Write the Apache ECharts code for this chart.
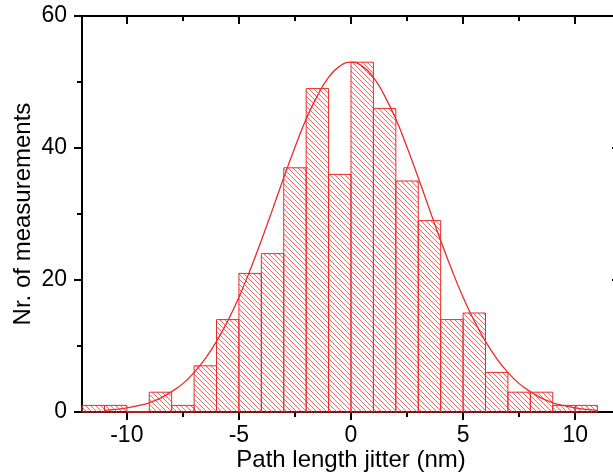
<!DOCTYPE html>
<html>
<head>
<meta charset="utf-8">
<title>Path length jitter</title>
<script src="https://cdn.jsdelivr.net/npm/echarts@6/dist/echarts.min.js"></script>
<style>
    html, body { margin: 0; padding: 0; background: #fff; }
    #main { width: 613px; height: 475px; }
</style>
</head>
<body>
<div id="main"></div>
<script>
// histogram bins (left edge, width 1 nm) and counts
var binStart = [-12, -11, -10, -9, -8, -7, -6, -5, -4, -3, -2, -1, 0, 1, 2, 3, 4, 5, 6, 7, 8, 9, 10];
var binCount = [1, 1, 0, 3, 1, 7, 14, 21, 24, 37, 49, 36, 53, 46, 35, 29, 14, 15, 6, 3, 3, 1, 1];
var binWidth = 1;

// gaussian fit curve
var fitX = [-11, -10.5, -10, -9.5, -9, -8.5, -8, -7.5, -7, -6.5, -6, -5.5, -5, -4.5, -4, -3.5, -3, -2.5, -2, -1.5, -1, -0.5,
    0, 0.5, 1, 1.5, 2, 2.5, 3, 3.5, 4, 4.5, 5, 5.5, 6, 6.5, 7, 7.5, 8, 8.5, 9, 9.5, 10, 10.5, 11];
var fitY = [0.24, 0.39, 0.61, 0.95, 1.4, 2.1, 3.1, 4.3, 6.0, 8.1, 10.7, 13.8, 17.4, 21.5, 26.0, 30.7, 35.5, 40.1, 44.4, 47.9, 50.7, 52.4,
    53.0, 52.4, 50.7, 47.9, 44.4, 40.1, 35.5, 30.7, 26.0, 21.5, 17.4, 13.8, 10.7, 8.1, 6.0, 4.3, 3.1, 2.1, 1.4, 0.95, 0.61, 0.39, 0.24];

// axis ranges
var X_MIN = -12, X_MAX = 12, Y_MIN = 0, Y_MAX = 60;
// x tick rows: first tick, step (major ticks from -10, minor ticks from -7.5)
var X_MAJOR_START = -10, X_MINOR_START = -7.5, X_TICK_STEP = 5;

var GRID = {left: 82, top: 16, width: 538, height: 396};

function hatchPattern() {
    var c = document.createElement('canvas');
    var s = 5;
    c.width = s;
    c.height = s;
    var ctx = c.getContext('2d');
    ctx.strokeStyle = 'rgba(236,60,60,0.85)';
    ctx.lineWidth = 0.9;
    ctx.beginPath();
    ctx.moveTo(-1, -1); ctx.lineTo(s + 1, s + 1);
    ctx.moveTo(-1, s - 1); ctx.lineTo(1, s + 1);
    ctx.moveTo(s - 1, -1); ctx.lineTo(s + 1, 1);
    ctx.stroke();
    return c;
}

/**
 * a grid with the same pixel scale as the main one, shifted so that
 * its min sits on a tick (ECharts counts ticks from min)
 */
function tickGrid(start) {
    var unit = GRID.width / (X_MAX - X_MIN);
    // end well past the right edge so the last tick is off the canvas
    var end = start + Math.ceil((X_MAX - start) / X_TICK_STEP) * X_TICK_STEP + X_TICK_STEP;
    return {
        grid: {
            left: GRID.left + (start - X_MIN) * unit,
            top: GRID.top,
            width: (end - start) * unit,
            height: GRID.height,
            outerBoundsMode: 'none',
            containLabel: false
        },
        min: start,
        max: end
    };
}

function tickAxis(gridIndex, tg, position, len) {
    return {
        type: 'value',
        gridIndex: gridIndex,
        min: tg.min,
        max: tg.max,
        interval: X_TICK_STEP,
        position: position,
        splitLine: {show: false},
        axisLine: {show: false, onZero: false},
        axisTick: {show: true, inside: position === 'top', length: len, lineStyle: {color: '#000', width: 2}},
        axisLabel: {show: false}
    };
}

function RenderHistogram() {
    var dom = document.getElementById('main');
    var chart = echarts.init(dom, null, {renderer: 'canvas'});
    var option;

    var hatch = {type: 'pattern', image: hatchPattern(), repeat: 'repeat'};
    var red = '#ec2a2a';
    var font = 'Liberation Sans, Arial, sans-serif';

    var bars = [];
    for (var i = 0; i < binStart.length; i++) {
        bars.push([binStart[i], binStart[i] + binWidth, binCount[i]]);
    }
    var fit = [];
    for (var j = 0; j < fitX.length; j++) {
        fit.push([fitX[j], fitY[j]]);
    }

    var lineStyle = {color: '#000', width: 2};
    var tickStyle = {color: '#000', width: 2};

    var majorGrid = tickGrid(X_MAJOR_START);
    var minorGrid = tickGrid(X_MINOR_START);
    var hiddenY = function (gridIndex) {
        return {type: 'value', gridIndex: gridIndex, min: Y_MIN, max: Y_MAX, show: false};
    };

    option = {
        animation: false,
        backgroundColor: '#fff',
        grid: [
            {left: GRID.left, top: GRID.top, width: GRID.width, height: GRID.height, outerBoundsMode: 'none', containLabel: false},
            majorGrid.grid,
            minorGrid.grid
        ],
        xAxis: [
            {
                type: 'value',
                gridIndex: 0,
                min: X_MIN,
                max: X_MAX,
                position: 'bottom',
                name: 'Path length jitter (nm)',
                nameLocation: 'middle',
                nameGap: 36,
                nameMoveOverlap: false,
                nameTextStyle: {fontFamily: font, fontSize: 24, color: '#000'},
                splitLine: {show: false},
                axisLine: {show: true, onZero: false, lineStyle: lineStyle},
                axisTick: {show: false},
                axisLabel: {fontFamily: font, fontSize: 23, color: '#000', margin: 12, showMinLabel: false, showMaxLabel: false}
            },
            {
                type: 'value',
                gridIndex: 0,
                min: X_MIN,
                max: X_MAX,
                position: 'top',
                splitLine: {show: false},
                axisLine: {show: true, onZero: false, lineStyle: lineStyle},
                axisTick: {show: false},
                axisLabel: {show: false}
            },
            tickAxis(1, majorGrid, 'bottom', 8),
            tickAxis(1, majorGrid, 'top', 8),
            tickAxis(2, minorGrid, 'bottom', 5),
            tickAxis(2, minorGrid, 'top', 5)
        ],
        yAxis: [
            {
                type: 'value',
                gridIndex: 0,
                min: Y_MIN,
                max: Y_MAX,
                interval: 20,
                position: 'left',
                name: 'Nr. of measurements',
                nameLocation: 'middle',
                nameGap: 47,
                nameMoveOverlap: false,
                nameTextStyle: {fontFamily: font, fontSize: 24, color: '#000'},
                splitLine: {show: false},
                axisLine: {show: true, onZero: false, lineStyle: lineStyle},
                axisTick: {show: true, length: 8, lineStyle: tickStyle},
                minorTick: {show: true, splitNumber: 2, length: 5, lineStyle: tickStyle},
                axisLabel: {fontFamily: font, fontSize: 23, color: '#000', margin: 15}
            },
            {
                type: 'value',
                gridIndex: 0,
                min: Y_MIN,
                max: Y_MAX,
                interval: 20,
                position: 'right',
                splitLine: {show: false},
                axisLine: {show: true, onZero: false, lineStyle: lineStyle},
                axisTick: {show: true, inside: true, length: 8, lineStyle: tickStyle},
                minorTick: {show: true, splitNumber: 2, length: 5, lineStyle: tickStyle},
                axisLabel: {show: false}
            },
            hiddenY(1),
            hiddenY(2)
        ],
        series: [
            {
                type: 'custom',
                xAxisIndex: 0,
                yAxisIndex: 0,
                data: bars,
                encode: {x: [0, 1], y: 2},
                renderItem: function (params, api) {
                    var p0 = api.coord([api.value(0), api.value(2)]);
                    var p1 = api.coord([api.value(1), 0]);
                    return {
                        type: 'rect',
                        shape: {x: p0[0], y: p0[1], width: p1[0] - p0[0], height: p1[1] - p0[1]},
                        style: {fill: hatch, stroke: red, lineWidth: 1}
                    };
                },
                z: 2
            },
            {
                type: 'line',
                xAxisIndex: 0,
                yAxisIndex: 0,
                data: fit,
                smooth: true,
                showSymbol: false,
                lineStyle: {color: red, width: 1.3},
                z: 3
            }
        ]
    };

    if (option && typeof option === 'object') {
        chart.setOption(option);
    }
}

RenderHistogram();
</script>
</body>
</html>
